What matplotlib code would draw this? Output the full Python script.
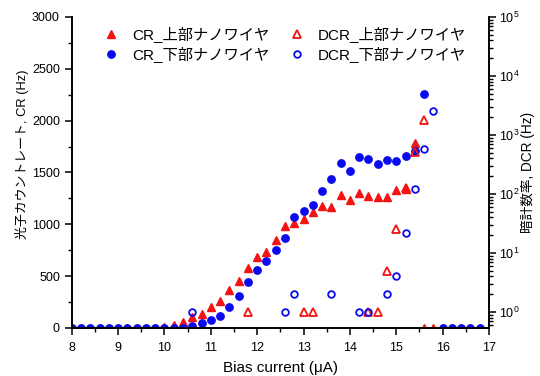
import numpy as np
import matplotlib
matplotlib.use("Agg")
import matplotlib.pyplot as plt
from matplotlib.ticker import MultipleLocator, LogLocator, NullFormatter

plt.rcParams['font.family'] = ['Liberation Sans', 'Noto Sans CJK JP', 'DejaVu Sans']

# bias current (uA)
bias = [8.0, 8.2, 8.4, 8.6, 8.8, 9.0, 9.2, 9.4, 9.6, 9.8,
        10.0, 10.2, 10.4, 10.6, 10.8, 11.0, 11.2, 11.4, 11.6, 11.8,
        12.0, 12.2, 12.4, 12.6, 12.8, 13.0, 13.2, 13.4, 13.6, 13.8,
        14.0, 14.2, 14.4, 14.6, 14.8, 15.0, 15.2, 15.4, 15.6, 15.8,
        16.0, 16.2, 16.4, 16.6, 16.8]

# count rate (Hz), left axis
cr_upper = [0, 0, 0, 0, 0, 0, 0, 0, 0, 0,
            5, 30, 55, 109, 135, 200, 260, 366, 456, 582,
            688, 730, 849, 984, 1017, 1051, 1122, 1176, 1167, 1286,
            1234, 1302, 1273, 1260, 1260, 1328, 1337, 1781, 0, 0,
            0, 0, 0, 0, 0]
cr_lower = [0, 0, 0, 0, 0, 0, 0, 0, 0, 0,
            0, 0, 3, 19, 45, 77, 116, 200, 312, 447,
            562, 643, 749, 865, 1073, 1128, 1186, 1318, 1437, 1591,
            1511, 1646, 1627, 1580, 1617, 1608, 1656, 1710, 2259, np.nan,
            0, 0, 0, 0, 0]

# dark count rate (Hz), right log axis
dcr_upper_x = [11.8, 13.0, 13.2, 14.4, 14.6, 14.8, 15.0, 15.2, 15.4, 15.6]
dcr_upper = [1, 1, 1, 1, 1, 5, 26, 125, 520, 1790]
dcr_lower_x = [10.6, 12.6, 12.8, 13.6, 14.2, 14.4, 14.8, 15.0, 15.2, 15.4, 15.6, 15.8]
dcr_lower = [1, 1, 2, 2, 1, 1, 2, 4, 22, 121, 570, 2560]

red = '#f51212'
blue = '#0a0af0'

fig = plt.figure(figsize=(5.4, 3.76), dpi=100)
ax = fig.add_axes([0.1328, 0.1277, 0.7728, 0.8271])
ax2 = ax.twinx()

h1, = ax.plot(bias, cr_upper, ls='none', marker='^', ms=6, color=red, label='CR_上部ナノワイヤ')
h2, = ax.plot(bias, cr_lower, ls='none', marker='o', ms=5.3, color=blue, label='CR_下部ナノワイヤ')
h3, = ax2.plot(dcr_upper_x, dcr_upper, ls='none', marker='^', ms=5.5, mfc='none', mec=red, mew=1.3,
               label='DCR_上部ナノワイヤ')
h4, = ax2.plot(dcr_lower_x, dcr_lower, ls='none', marker='o', ms=4.8, mfc='none', mec=blue, mew=1.3,
               label='DCR_下部ナノワイヤ')

ax.set_xlim(8, 17)
ax.set_ylim(0, 3000)
ax2.set_yscale('log')
ax2.set_ylim(0.536, 1e5)

ax.xaxis.set_major_locator(MultipleLocator(1))
ax.xaxis.set_minor_locator(MultipleLocator(0.5))
ax.yaxis.set_major_locator(MultipleLocator(500))
ax.yaxis.set_minor_locator(MultipleLocator(250))
ax2.yaxis.set_major_locator(LogLocator(base=10, numticks=10))
ax2.yaxis.set_minor_locator(LogLocator(base=10, subs=np.arange(2, 10), numticks=20))
ax2.yaxis.set_minor_formatter(NullFormatter())

for a in (ax, ax2):
    a.spines['top'].set_visible(False)
    for s in a.spines.values():
        s.set_linewidth(1.2)
    a.tick_params(which='major', direction='out', length=5, width=1.1, labelsize=9)
    a.tick_params(which='minor', direction='out', length=3, width=1.0)
ax.tick_params(axis='x', which='major', pad=5)
ax2.tick_params(axis='y', which='major', pad=2)

ax.set_xlabel('Bias current (μA)', fontsize=11)
ax.xaxis.set_label_coords(0.5, -0.105)
ax.set_ylabel('光子カウントレート, CR (Hz)', fontsize=9.3)
ax.yaxis.set_label_coords(-0.102, 0.56)
ax2.set_ylabel('暗計数率, DCR (Hz)', fontsize=9.8, labelpad=1)

ax.legend(handles=[h1, h2, h3, h4], ncol=2, loc='upper left', bbox_to_anchor=(0.06, 0.99),
          frameon=False, fontsize=11, handlelength=1.0, handletextpad=0.9, columnspacing=1.3,
          labelspacing=0.25, borderaxespad=0.0)

fig.savefig('out.png', dpi=100)
